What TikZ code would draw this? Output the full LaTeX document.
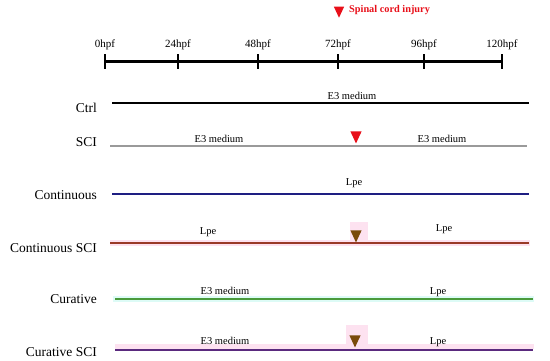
\documentclass[tikz,border=0pt]{standalone}
\usepackage{fontspec}
\setmainfont{Liberation Serif}
\usetikzlibrary{shapes.geometric}
\definecolor{scired}{HTML}{E8101A}
\definecolor{lineGray}{HTML}{9A9A9A}
\definecolor{lineNavy}{HTML}{1E1E82}
\definecolor{lineBrown}{HTML}{9A3A28}
\definecolor{lineGreen}{HTML}{4A9A3C}
\definecolor{linePurple}{HTML}{5A2A7E}
\definecolor{triBrown}{HTML}{7A4A0A}
\definecolor{bandPink}{HTML}{FDE2F0}
\definecolor{bandCyan}{HTML}{DDFBF6}
\tikzset{
  grouplabel/.style={anchor=east, inner sep=0pt, font=\fontsize{13.5}{14}\selectfont},
  ticklabel/.style={inner sep=0pt, font=\fontsize{11}{12}\selectfont},
  medlabel/.style={inner sep=0pt, font=\fontsize{10.5}{11}\selectfont},
  axisline/.style={line width=3pt},
  tickmark/.style={line width=2.6pt},
  grp/.style={line width=2pt},
  tri/.style={isosceles triangle, isosceles triangle apex angle=50, shape border rotate=-90, inner sep=0pt, minimum height=12pt, minimum width=9pt, draw=none},
}
\begin{document}
\begin{tikzpicture}[x=1pt,y=-1pt]
\useasboundingbox (0,0) rectangle (550,361);
% title
\node[tri, fill=scired, minimum height=11pt, minimum width=8pt] (t0) at (339,10) {};
\node[anchor=west, inner sep=0pt, text=scired, font=\bfseries\fontsize{10.3}{11}\selectfont] (title) at (349,10) {Spinal cord injury};
% axis
\coordinate (a0) at (105,62);
\coordinate (a24) at (178,62);
\coordinate (a48) at (258,62);
\coordinate (a72) at (338,62);
\coordinate (a96) at (424,62);
\coordinate (a120) at (502,62);
\draw[axisline] (a0) -- (a120);
\foreach \n in {a0,a24,a48,a72,a96,a120}{
  \draw[tickmark] ([yshift=-7pt]\n.center) -- ([yshift=8pt]\n.center);
}
\node[ticklabel] (l0) at (105,45) {0hpf};
\node[ticklabel] (l24) at (178,45) {24hpf};
\node[ticklabel] (l48) at (258,45) {48hpf};
\node[ticklabel] (l72) at (338,45) {72hpf};
\node[ticklabel] (l96) at (424,45) {96hpf};
\node[ticklabel] (l120) at (502,45) {120hpf};
% background bands
\fill[bandPink] (110,240) rectangle (530,246);
\fill[bandPink] (350,222) rectangle (368,240);
\fill[bandCyan] (113,296) rectangle (534,302);
\fill[bandPink] (115,344) rectangle (534,349);
\fill[bandPink] (346,325) rectangle (368,344);
% Ctrl
\node[grouplabel] (gCtrl) at (97,108) {Ctrl};
\coordinate (c1) at (112,103); \coordinate (c2) at (529,103);
\draw[grp, black] (c1) -- (c2);
\node[medlabel] (mCtrl) at (352,96) {E3 medium};
% SCI
\node[grouplabel] (gSCI) at (97,142) {SCI};
\coordinate (s1) at (110,146); \coordinate (s2) at (527,146);
\draw[grp, lineGray] (s1) -- (s2);
\node[medlabel] (mSCI1) at (219,139) {E3 medium};
\node[medlabel] (mSCI2) at (442,139) {E3 medium};
\node[tri, fill=scired] (tSCI) at (356,135) {};
% Continuous
\node[grouplabel] (gCont) at (97,195) {Continuous};
\coordinate (n1) at (112,194); \coordinate (n2) at (529,194);
\draw[grp, lineNavy] (n1) -- (n2);
\node[medlabel] (mCont) at (354,183) {Lpe};
% Continuous SCI
\node[grouplabel] (gContS) at (97,248) {Continuous SCI};
\coordinate (b1) at (110,243); \coordinate (b2) at (529,243);
\draw[grp, lineBrown] (b1) -- (b2);
\node[medlabel] (mContS1) at (208,232) {Lpe};
\node[medlabel] (mContS2) at (444,229) {Lpe};
\node[tri, fill=triBrown] (tContS) at (356,234) {};
% Curative
\node[grouplabel] (gCur) at (97,299) {Curative};
\coordinate (g1) at (115,299); \coordinate (g2) at (533,299);
\draw[grp, lineGreen] (g1) -- (g2);
\node[medlabel] (mCur1) at (225,291) {E3 medium};
\node[medlabel] (mCur2) at (438,292) {Lpe};
% Curative SCI
\node[grouplabel] (gCurS) at (97,352) {Curative SCI};
\coordinate (p1) at (115,350); \coordinate (p2) at (533,350);
\draw[grp, linePurple] (p1) -- (p2);
\node[medlabel] (mCurS1) at (225,341) {E3 medium};
\node[medlabel] (mCurS2) at (438,342) {Lpe};
\node[tri, fill=triBrown] (tCurS) at (355,339) {};
\end{tikzpicture}
\end{document}
